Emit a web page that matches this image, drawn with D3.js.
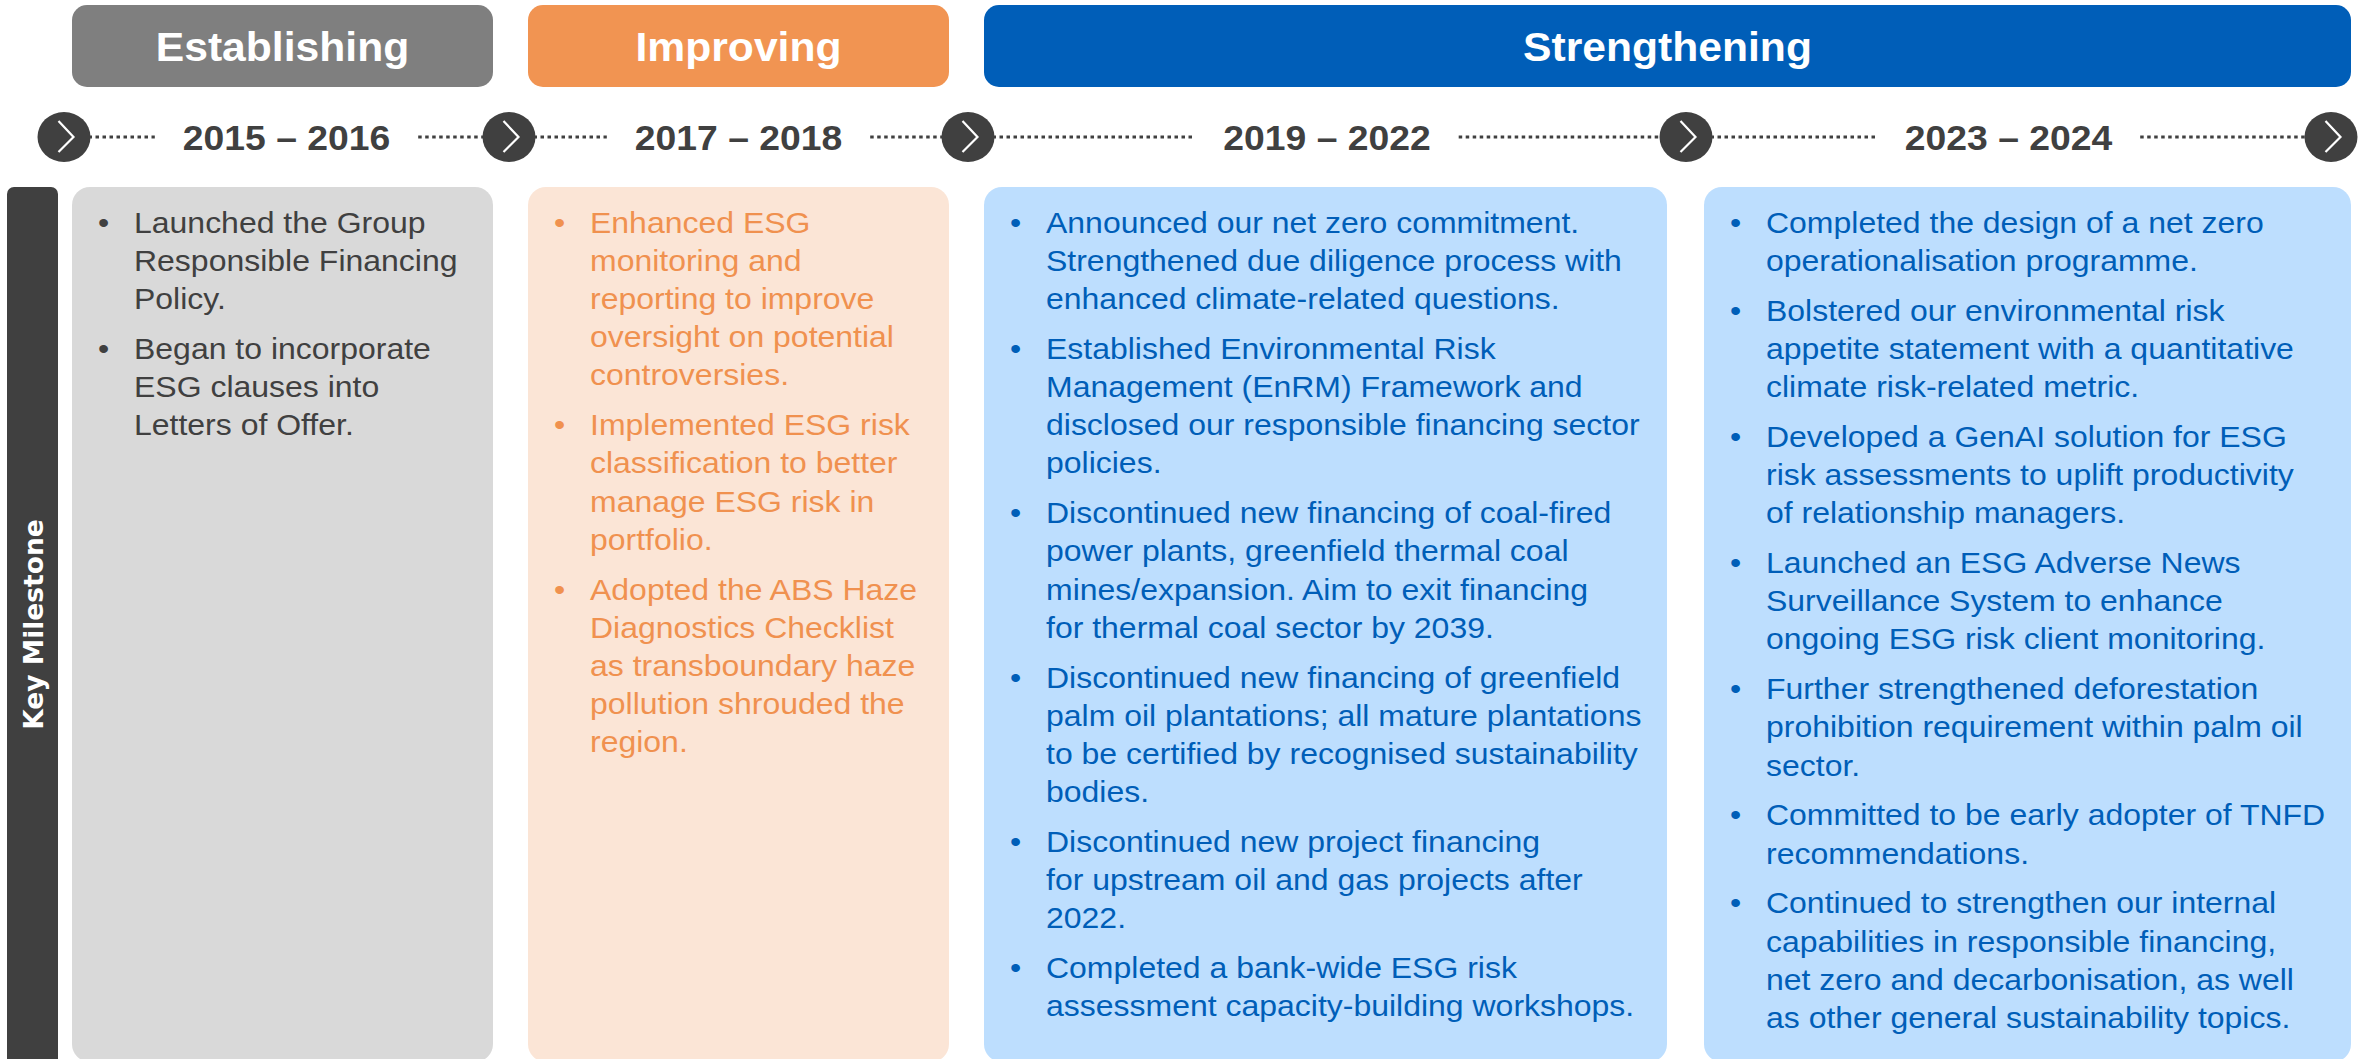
<!DOCTYPE html>
<html>
<head>
<meta charset="utf-8">
<script src="https://cdn.jsdelivr.net/npm/d3@7"></script>
<style>
  body { margin: 0; background: #fff; }
  svg { display: block; }
</style>
</head>
<body>
<svg id="chart"></svg>
<script>
// ---- data ----
const phases = ['Establishing', 'Improving', 'Strengthening'];
// which period columns each phase spans
const phaseSpans = [[0, 0], [1, 1], [2, 3]];
const periods = ['2015 – 2016', '2017 – 2018', '2019 – 2022', '2023 – 2024'];
const rowLabel = 'Key Milestone';

// bullets, already broken into lines like the source
const milestones2015 = [
    ['Launched the Group', 'Responsible Financing', 'Policy.'],
    ['Began to incorporate', 'ESG clauses into', 'Letters of Offer.']
];
const milestones2017 = [
    ['Enhanced ESG', 'monitoring and', 'reporting to improve', 'oversight on potential', 'controversies.'],
    ['Implemented ESG risk', 'classification to better', 'manage ESG risk in', 'portfolio.'],
    ['Adopted the ABS Haze', 'Diagnostics Checklist', 'as transboundary haze', 'pollution shrouded the', 'region.']
];
const milestones2019 = [
    ['Announced our net zero commitment.', 'Strengthened due diligence process with', 'enhanced climate-related questions.'],
    ['Established Environmental Risk', 'Management (EnRM) Framework and', 'disclosed our responsible financing sector', 'policies.'],
    ['Discontinued new financing of coal-fired', 'power plants, greenfield thermal coal', 'mines/expansion. Aim to exit financing', 'for thermal coal sector by 2039.'],
    ['Discontinued new financing of greenfield', 'palm oil plantations; all mature plantations', 'to be certified by recognised sustainability', 'bodies.'],
    ['Discontinued new project financing', 'for upstream oil and gas projects after', '2022.'],
    ['Completed a bank-wide ESG risk', 'assessment capacity-building workshops.']
];
const milestones2023 = [
    ['Completed the design of a net zero', 'operationalisation programme.'],
    ['Bolstered our environmental risk', 'appetite statement with a quantitative', 'climate risk-related metric.'],
    ['Developed a GenAI solution for ESG', 'risk assessments to uplift productivity', 'of relationship managers.'],
    ['Launched an ESG Adverse News', 'Surveillance System to enhance', 'ongoing ESG risk client monitoring.'],
    ['Further strengthened deforestation', 'prohibition requirement within palm oil', 'sector.'],
    ['Committed to be early adopter of TNFD', 'recommendations.'],
    ['Continued to strengthen our internal', 'capabilities in responsible financing,', 'net zero and decarbonisation, as well', 'as other general sustainability topics.']
];
const milestones = [milestones2015, milestones2017, milestones2019, milestones2023];

// ---- layout / style ----
const W = 2369, H = 1059;
const font = '"Liberation Sans", Arial, sans-serif';
// source slide is a bit wider than tall, stretch text horizontally
const sx = 1.066;

const phaseFill = ['#7f7f7f', '#f19452', '#005eb8'];
const panelFill = ['#d9d9d9', '#fbe5d6', '#bddefe', '#bddefe'];
const panelText = ['#404040', '#f0914f', '#005eb8', '#005eb8'];
const dark = '#404040';

// column edges for each period
const colX = d3.scaleOrdinal().domain(periods).range([72, 528, 984, 1704]);
const colW = d3.scaleOrdinal().domain(periods).range([421, 421, 683, 647]);
// arrow nodes on the timeline (one more than periods)
const nodeX = d3.scaleOrdinal().domain(d3.range(5)).range([64, 509, 968, 1686, 2331]);

const headY = 5, headH = 82,
    lineY = 137,
    nodeRx = 26.5, nodeRy = 25,
    panelY = 187, panelBottom = 1062,
    firstBase = 233, lineH = 38.1, bulletGap = 11.8,
    bodySize = 30;

const svg = d3.select('#chart')
    .attr('width', W)
    .attr('height', H)
    .style('font-family', font);

svg.append('rect').attr('width', W).attr('height', H).attr('fill', '#fff');

// ---- phase headers ----
phases.forEach((p, i) => {
    const x0 = colX(periods[phaseSpans[i][0]]),
        x1 = colX(periods[phaseSpans[i][1]]) + colW(periods[phaseSpans[i][1]]);
    svg.append('rect')
        .attr('x', x0).attr('y', headY)
        .attr('width', x1 - x0).attr('height', headH)
        .attr('rx', 15)
        .attr('fill', phaseFill[i]);
    svg.append('text')
        .attr('transform', `translate(${(x0 + x1) / 2},${headY + headH / 2 + 15}) scale(${sx},1)`)
        .attr('text-anchor', 'middle')
        .attr('font-size', 40)
        .attr('font-weight', 'bold')
        .attr('fill', '#fff')
        .text(p);
});

// ---- timeline ----
const lines = svg.append('g');
const labels = svg.append('g');
periods.forEach((p, i) => {
    const a = nodeX(i), b = nodeX(i + 1), mid = (a + b) / 2;
    const t = labels.append('text')
        .attr('transform', `translate(${mid},${lineY + 13}) scale(${sx},1)`)
        .attr('text-anchor', 'middle')
        .attr('font-size', 35)
        .attr('font-weight', 'bold')
        .attr('fill', dark)
        .text(p);
    const half = t.node().getComputedTextLength() * sx / 2, gap = 28;
    [[a + nodeRx - 2, mid - half - gap], [mid + half + gap, b - nodeRx + 2]].forEach(seg => {
        lines.append('line')
            .attr('x1', seg[0]).attr('x2', seg[1])
            .attr('y1', lineY).attr('y2', lineY)
            .attr('stroke', dark)
            .attr('stroke-width', 3)
            .attr('stroke-dasharray', '3.5,3.5');
    });
});

d3.range(5).forEach(i => {
    const g = svg.append('g').attr('transform', `translate(${nodeX(i)},${lineY})`);
    g.append('ellipse').attr('rx', nodeRx).attr('ry', nodeRy).attr('fill', dark);
    g.append('path')
        .attr('d', 'M-5.5,-16L9.5,0L-5.5,15')
        .attr('fill', 'none')
        .attr('stroke', '#fff')
        .attr('stroke-width', 2.2);
});

// ---- side label ----
svg.append('rect')
    .attr('x', 7).attr('y', panelY)
    .attr('width', 51).attr('height', panelBottom - panelY + 10)
    .attr('rx', 7)
    .attr('fill', dark);
svg.append('text')
    .attr('transform', `translate(43,${(panelY + panelBottom) / 2}) rotate(-90)`)
    .attr('text-anchor', 'middle')
    .attr('font-family', '"DejaVu Sans", Verdana, sans-serif')
    .attr('font-size', 26.5)
    .attr('font-weight', 'bold')
    .attr('fill', '#fff')
    .text(rowLabel);

// ---- milestone panels ----
periods.forEach((p, i) => {
    const x = colX(p);
    svg.append('rect')
        .attr('x', x).attr('y', panelY)
        .attr('width', colW(p)).attr('height', panelBottom - panelY)
        .attr('rx', 18)
        .attr('fill', panelFill[i]);

    let y = firstBase;
    milestones[i].forEach(item => {
        svg.append('text')
            .attr('transform', `translate(${x + 26},${y}) scale(${sx},1)`)
            .attr('font-size', bodySize)
            .attr('fill', panelText[i])
            .text('•');
        item.forEach((ln, k) => {
            svg.append('text')
                .attr('transform', `translate(${x + 62},${y + k * lineH}) scale(${sx},1)`)
                .attr('font-size', bodySize)
                .attr('fill', panelText[i])
                .text(ln);
        });
        y += item.length * lineH + bulletGap;
    });
});
</script>
</body>
</html>
